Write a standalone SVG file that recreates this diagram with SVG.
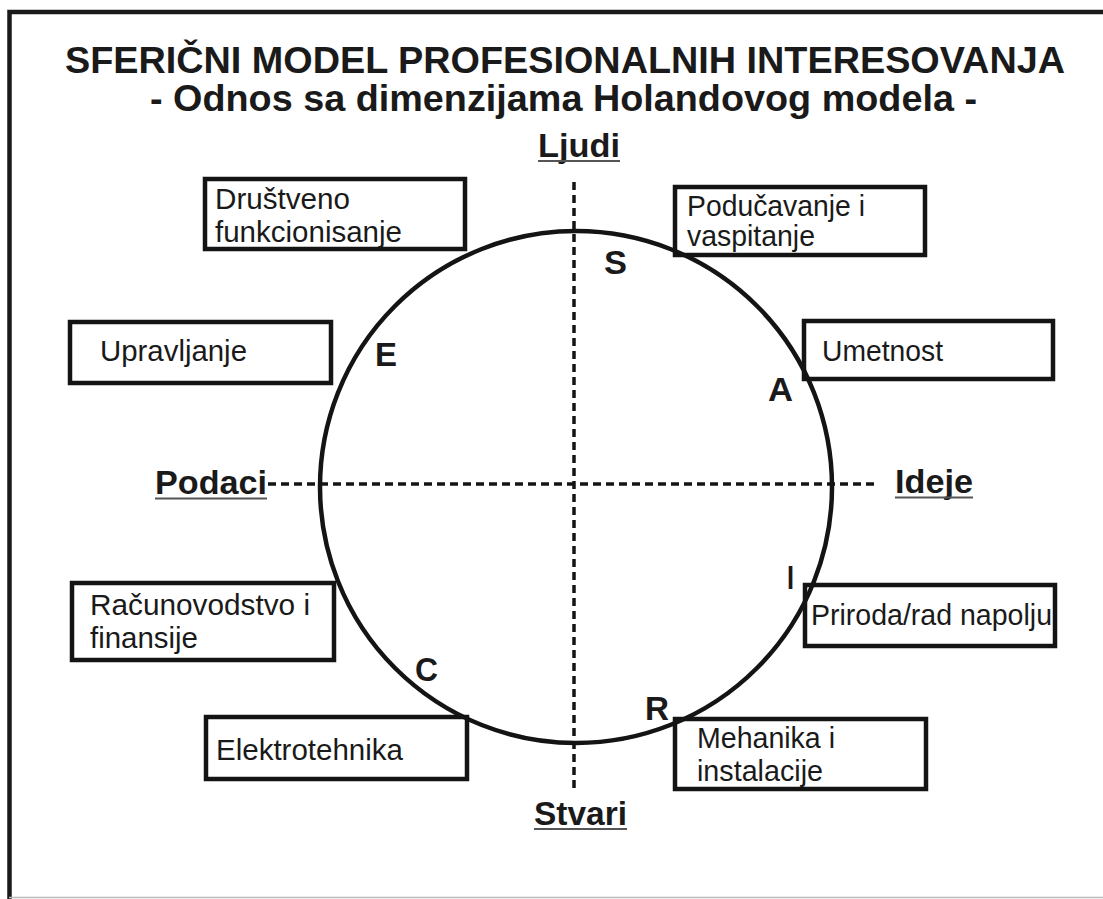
<svg xmlns="http://www.w3.org/2000/svg" width="1103" height="899" viewBox="0 0 1103 899">
<style>
.t{font-family:"Liberation Sans",Arial,sans-serif;fill:#1a1a1a}
.b{font-weight:bold}
.box{fill:none;stroke:#141414;stroke-width:4.5}
.bt{font-size:29px}
.lt{font-size:33px;font-weight:bold}
.ax{font-size:34px;font-weight:bold}
.ul{stroke:#555;stroke-width:2}
.dash{stroke:#141414;stroke-width:3.5;stroke-dasharray:8 5;fill:none}
</style>
<rect x="0" y="0" width="1103" height="899" fill="#fff"/>
<path d="M9.5,899 V12 H1103" fill="none" stroke="#1a1a1a" stroke-width="4.5"/>
<line x1="9" y1="897.5" x2="1103" y2="897.5" stroke="#bbb" stroke-width="1.5"/>
<g id="title">
<text class="t b" x="65" y="73" font-size="37" textLength="1000" lengthAdjust="spacingAndGlyphs">SFERIČNI MODEL PROFESIONALNIH INTERESOVANJA</text>
<text class="t b" x="150" y="111" font-size="37" textLength="827" lengthAdjust="spacingAndGlyphs">- Odnos sa dimenzijama Holandovog modela -</text>
</g>
<g id="connectors">
<line class="dash" x1="574" y1="182" x2="574" y2="788"/>
<line class="dash" x1="268" y1="484" x2="877" y2="484"/>
</g>
<g id="circle">
<circle cx="576" cy="487" r="256" fill="none" stroke="#141414" stroke-width="4.5"/>
</g>
<g id="axis-ljudi">
<text class="t ax" x="538" y="157" textLength="82" lengthAdjust="spacingAndGlyphs">Ljudi</text>
<line class="ul" x1="538" y1="161" x2="620" y2="161"/>
</g>
<g id="axis-podaci">
<text class="t ax" x="155" y="494" textLength="112" lengthAdjust="spacingAndGlyphs">Podaci</text>
<line class="ul" x1="155" y1="498.5" x2="267" y2="498.5"/>
</g>
<g id="axis-ideje">
<text class="t ax" x="895" y="493" textLength="78" lengthAdjust="spacingAndGlyphs">Ideje</text>
<line class="ul" x1="895" y1="497.5" x2="973" y2="497.5"/>
</g>
<g id="axis-stvari">
<text class="t ax" x="534" y="825" textLength="93" lengthAdjust="spacingAndGlyphs">Stvari</text>
<line class="ul" x1="534" y1="829" x2="627" y2="829"/>
</g>
<g id="letter-S"><text class="t lt" x="604" y="274" textLength="23" lengthAdjust="spacingAndGlyphs">S</text></g>
<g id="letter-E"><text class="t lt" x="375" y="366" textLength="22" lengthAdjust="spacingAndGlyphs">E</text></g>
<g id="letter-A"><text class="t lt" x="768" y="401" textLength="25" lengthAdjust="spacingAndGlyphs">A</text></g>
<g id="letter-I"><text class="t lt" x="787" y="589" textLength="7" lengthAdjust="spacingAndGlyphs">I</text></g>
<g id="letter-C"><text class="t lt" x="415" y="681" textLength="23" lengthAdjust="spacingAndGlyphs">C</text></g>
<g id="letter-R"><text class="t lt" x="645" y="720" textLength="24" lengthAdjust="spacingAndGlyphs">R</text></g>
<g id="drustveno">
<rect class="box" x="205" y="179" width="260" height="70"/>
<text class="t bt" x="215" y="209" textLength="135" lengthAdjust="spacingAndGlyphs">Društveno</text>
<text class="t bt" x="215" y="242" textLength="187" lengthAdjust="spacingAndGlyphs">funkcionisanje</text>
</g>
<g id="poducavanje">
<rect class="box" x="675" y="187" width="250" height="68"/>
<text class="t bt" x="687" y="216" textLength="178" lengthAdjust="spacingAndGlyphs">Podučavanje i</text>
<text class="t bt" x="687" y="246" textLength="128" lengthAdjust="spacingAndGlyphs">vaspitanje</text>
</g>
<g id="umetnost">
<rect class="box" x="804" y="321" width="249" height="58"/>
<text class="t bt" x="822" y="361" textLength="121" lengthAdjust="spacingAndGlyphs">Umetnost</text>
</g>
<g id="upravljanje">
<rect class="box" x="70" y="322" width="261" height="61"/>
<text class="t bt" x="100" y="361" textLength="147" lengthAdjust="spacingAndGlyphs">Upravljanje</text>
</g>
<g id="racunovodstvo">
<rect class="box" x="72" y="583" width="262" height="77"/>
<text class="t bt" x="90" y="615" textLength="220" lengthAdjust="spacingAndGlyphs">Računovodstvo i</text>
<text class="t bt" x="90" y="648" textLength="108" lengthAdjust="spacingAndGlyphs">finansije</text>
</g>
<g id="elektrotehnika">
<rect class="box" x="206" y="717" width="261" height="62"/>
<text class="t bt" x="216" y="760" textLength="187" lengthAdjust="spacingAndGlyphs">Elektrotehnika</text>
</g>
<g id="priroda">
<rect class="box" x="805" y="585" width="250" height="61"/>
<text class="t bt" x="811" y="625" textLength="241" lengthAdjust="spacingAndGlyphs">Priroda/rad napolju</text>
</g>
<g id="mehanika">
<rect class="box" x="675" y="719" width="251" height="70"/>
<text class="t bt" x="697" y="748" textLength="138" lengthAdjust="spacingAndGlyphs">Mehanika i</text>
<text class="t bt" x="697" y="781" textLength="126" lengthAdjust="spacingAndGlyphs">instalacije</text>
</g>
</svg>
